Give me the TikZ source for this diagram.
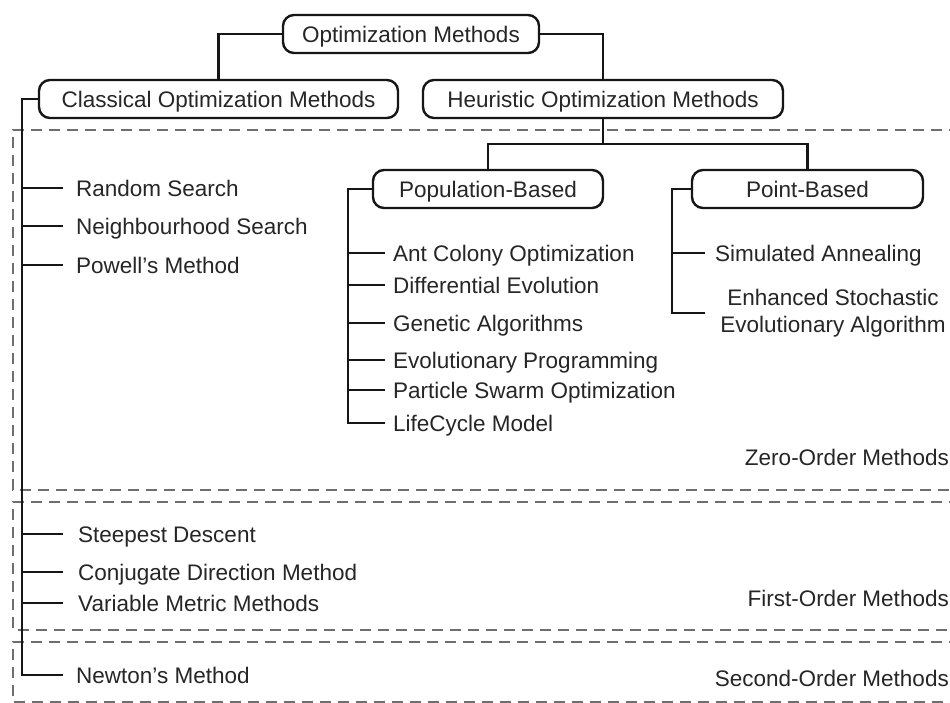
\documentclass[tikz,border=0pt]{standalone}
\usepackage{fontspec}
\setmainfont{Liberation Sans}
\definecolor{inkgray}{HTML}{262626}
\definecolor{linedark}{HTML}{161616}
\definecolor{zonegray}{HTML}{6E6E6E}

\begin{document}
\begin{tikzpicture}[
  x=1pt, y=-1pt,
  font=\fontsize{22.5}{27}\selectfont,
  text=inkgray,
  methodbox/.style={
    draw=linedark,
    line width=2.4pt,
    rounded corners=11pt,
    minimum height=38pt,
    inner sep=0pt,
    text height=16pt,
    text depth=0pt
  },
  leaf/.style={
    anchor=west,
    inner sep=0pt,
    text height=16pt,
    text depth=0pt
  },
  ordertag/.style={
    anchor=east,
    inner sep=0pt,
    text height=16pt,
    text depth=0pt
  },
  branch/.style={draw=linedark, line width=2.4pt},
  zone/.style={draw=zonegray, line width=2.4pt, dash pattern=on 11pt off 7pt}
]

  \path[use as bounding box, fill=white] (0,0) rectangle (950,702);

  % ----------------------------------------------------
  % ORDER ZONES (dashed bands)
  % ----------------------------------------------------
  \draw[zone] (960,130) -- (13,130) -- (13,490) -- (960,490);
  \draw[zone] (960,502) -- (13,502) -- (13,630) -- (960,630);
  \draw[zone] (960,642) -- (13,642) -- (13,702.5) -- (960,702.5);

  \node[ordertag] (zero_lbl) at (949,457) {Zero-Order Methods};
  \node[ordertag] (first_lbl) at (949,598) {First-Order Methods};
  \node[ordertag] (second_lbl) at (949,678) {Second-Order Methods};

  % ----------------------------------------------------
  % TOP LEVEL BOXES
  % ----------------------------------------------------
  \node[methodbox, minimum width=256pt] (optm) at (411,34) {Optimization Methods};
  \node[methodbox, minimum width=359pt] (classical) at (218.5,99) {Classical Optimization Methods};
  \node[methodbox, minimum width=360pt] (heuristic) at (603,99) {Heuristic Optimization Methods};
  \node[methodbox, minimum width=230pt] (popbased) at (488,189) {Population-Based};
  \node[methodbox, minimum width=231pt] (pointbased) at (807.5,189) {Point-Based};

  \draw[branch] (optm.west) -| (classical.north);
  \draw[branch] (optm.east) -| (heuristic.north);

  \coordinate (hsplit) at ([yshift=-25pt]heuristic.south);
  \draw[branch] (heuristic.south) -- (hsplit);
  \draw[branch] (popbased.north) |- (hsplit) -| (pointbased.north);

  % ----------------------------------------------------
  % CLASSICAL METHODS
  % ----------------------------------------------------
  \node[leaf] (rand_s) at (76,188) {Random Search};
  \node[leaf] (neigh_s) at (76,226) {Neighbourhood Search};
  \node[leaf] (powell) at (76,265) {Powell's Method};
  \node[leaf] (steep) at (78,534) {Steepest Descent};
  \node[leaf] (conj) at (78,572) {Conjugate Direction Method};
  \node[leaf] (varmet) at (78,603) {Variable Metric Methods};
  \node[leaf] (newton) at (76,675) {Newton's Method};

  \draw[branch] (classical.west) -| ([xshift=-54pt]newton.west) -- ([xshift=-13pt]newton.west);
  \draw[branch] ([xshift=-54pt]rand_s.west) -- ([xshift=-13pt]rand_s.west);
  \draw[branch] ([xshift=-54pt]neigh_s.west) -- ([xshift=-13pt]neigh_s.west);
  \draw[branch] ([xshift=-54pt]powell.west) -- ([xshift=-13pt]powell.west);
  \draw[branch] ([xshift=-56pt]steep.west) -- ([xshift=-15pt]steep.west);
  \draw[branch] ([xshift=-56pt]conj.west) -- ([xshift=-15pt]conj.west);
  \draw[branch] ([xshift=-56pt]varmet.west) -- ([xshift=-15pt]varmet.west);

  % ----------------------------------------------------
  % POPULATION-BASED METHODS
  % ----------------------------------------------------
  \node[leaf] (aco) at (393,253) {Ant Colony Optimization};
  \node[leaf] (de) at (393,285) {Differential Evolution};
  \node[leaf] (ga) at (393,323) {Genetic Algorithms};
  \node[leaf] (ep) at (393,360) {Evolutionary Programming};
  \node[leaf] (pso) at (393,390) {Particle Swarm Optimization};
  \node[leaf] (lcm) at (393,423) {LifeCycle Model};

  \draw[branch] (popbased.west) -| ([xshift=-45pt]lcm.west) -- ([xshift=-8pt]lcm.west);
  \draw[branch] ([xshift=-45pt]aco.west) -- ([xshift=-8pt]aco.west);
  \draw[branch] ([xshift=-45pt]de.west) -- ([xshift=-8pt]de.west);
  \draw[branch] ([xshift=-45pt]ga.west) -- ([xshift=-8pt]ga.west);
  \draw[branch] ([xshift=-45pt]ep.west) -- ([xshift=-8pt]ep.west);
  \draw[branch] ([xshift=-45pt]pso.west) -- ([xshift=-8pt]pso.west);

  % ----------------------------------------------------
  % POINT-BASED METHODS
  % ----------------------------------------------------
  \node[leaf] (sa) at (715,253) {Simulated Annealing};
  \node[align=center, inner sep=0pt] (esea) at (833,313) {Enhanced Stochastic\\Evolutionary Algorithm};

  \coordinate (pt_elbow) at (sa.west |- esea.west);
  \draw[branch] (pointbased.west) -| ([xshift=-43pt]pt_elbow) -- ([xshift=-10pt]pt_elbow);
  \draw[branch] ([xshift=-43pt]sa.west) -- ([xshift=-10pt]sa.west);

\end{tikzpicture}
\end{document}
